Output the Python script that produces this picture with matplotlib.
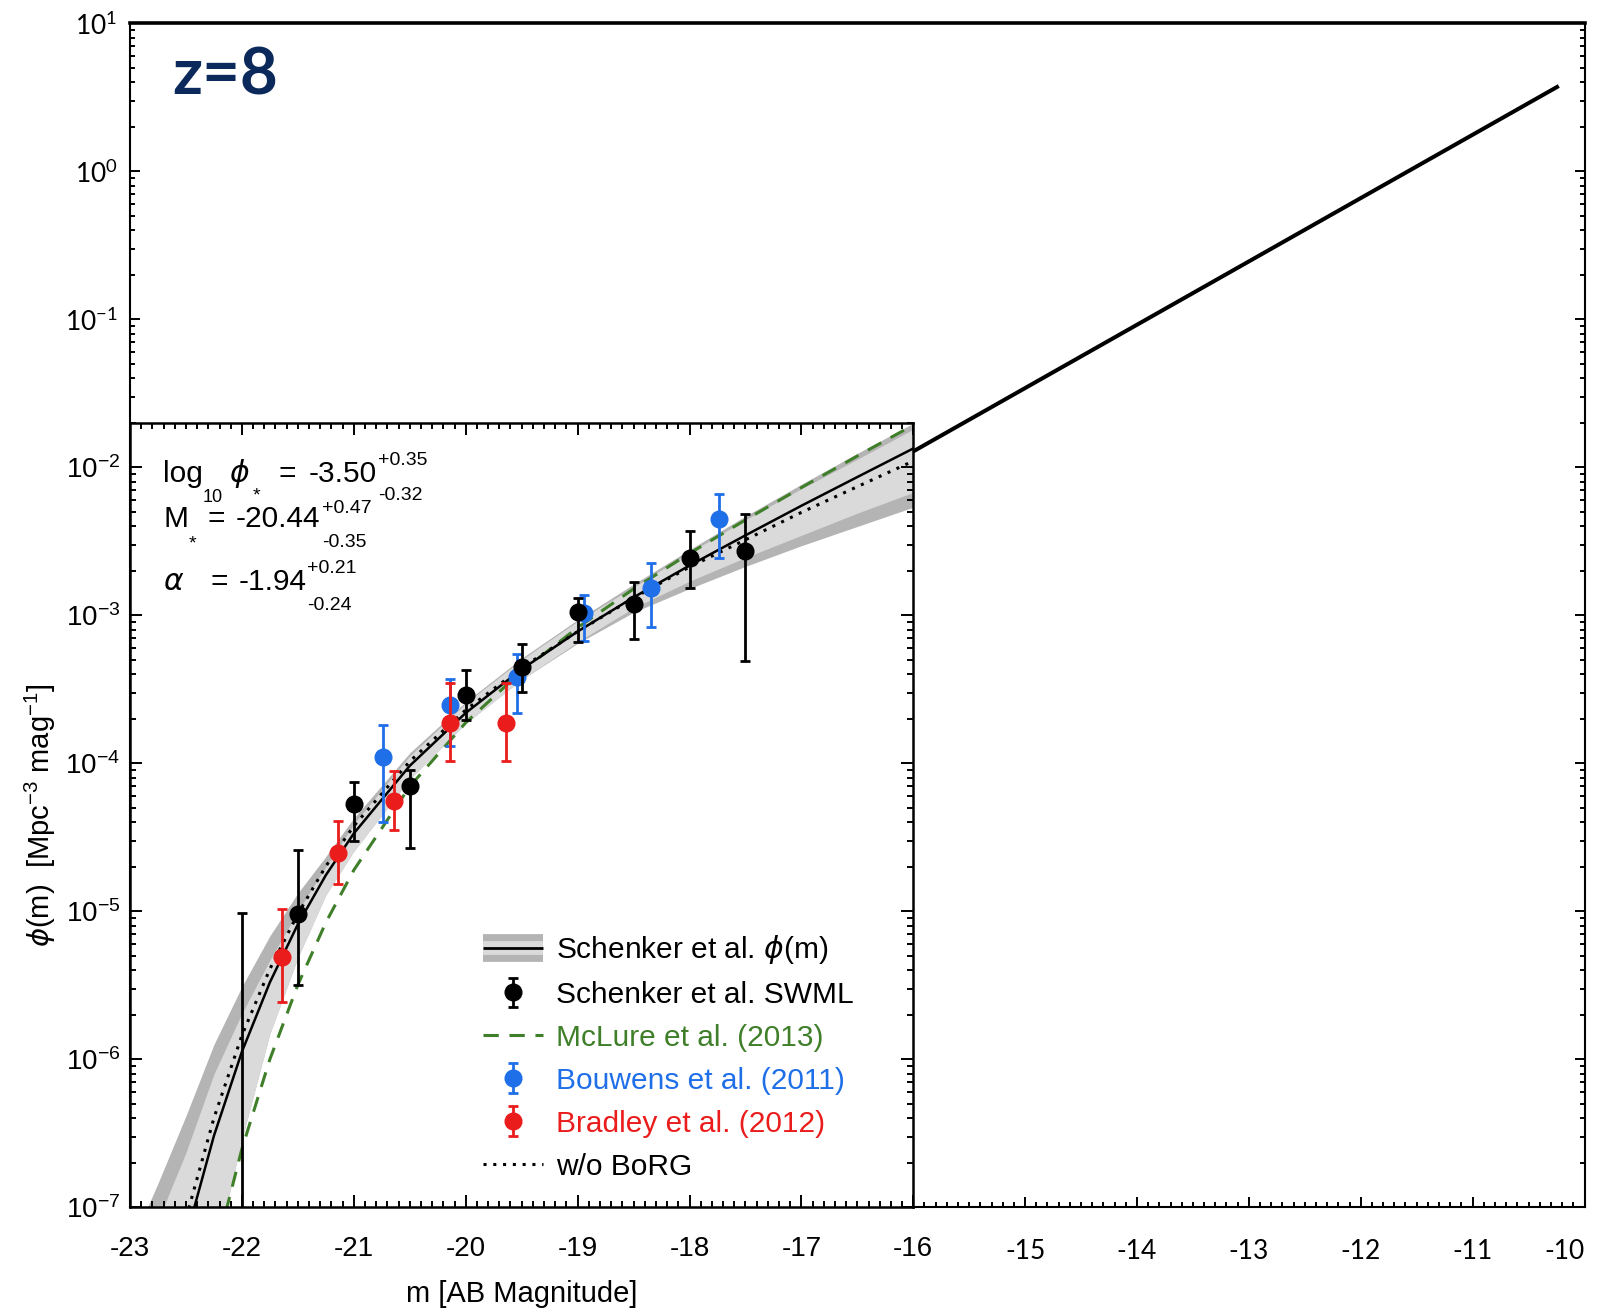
import matplotlib
matplotlib.use('Agg')
import matplotlib.pyplot as plt
from matplotlib.lines import Line2D
from matplotlib.ticker import MultipleLocator, LogLocator, NullFormatter

plt.rcParams['font.family'] = ['Liberation Sans', 'DejaVu Sans']
plt.rcParams['mathtext.default'] = 'regular'

# luminosity function curves (log10 phi)
mag_grid = [-23.0, -22.75, -22.5, -22.25, -22.0, -21.75, -21.5, -21.25, -21.0, -20.5,
            -20.0, -19.5, -19.0, -18.5, -18.0, -17.5, -17.0, -16.5, -16.0]
fit_log = [-9.09, -8.05, -7.206, -6.517, -5.949, -5.480, -5.088, -4.756, -4.474, -4.017,
           -3.660, -3.365, -3.110, -2.879, -2.664, -2.460, -2.260, -2.066, -1.873]
outer_hi_log = [-7.27, -6.838, -6.382, -5.900, -5.509, -5.166, -4.877, -4.63, -4.37, -3.93,
                -3.585, -3.29, -3.03, -2.79, -2.557, -2.33, -2.115, -1.906, -1.703]
inner_hi_log = [-7.5, -7.09, -6.63, -6.10, -5.69, -5.33, -5.0, -4.70, -4.41, -3.95,
                -3.595, -3.30, -3.04, -2.81, -2.577, -2.355, -2.145, -1.946, -1.743]
outer_lo_log = [-10.0, -9.0, -8.19, -7.36, -6.54, -5.827, -5.313, -4.89, -4.594, -4.107,
                -3.73, -3.435, -3.19, -2.98, -2.82, -2.67, -2.53, -2.40, -2.27]
inner_lo_log = [-10.0, -9.0, -8.19, -7.36, -6.54, -5.827, -5.313, -4.89, -4.594, -4.107,
                -3.73, -3.435, -3.18, -2.95, -2.77, -2.61, -2.46, -2.31, -2.17]
mclure_log = [-10.72, -9.354, -8.246, -7.344, -6.606, -6.0, -5.497, -5.076, -4.722, -4.157,
              -3.726, -3.378, -3.084, -2.822, -2.582, -2.356, -2.137, -1.924, -1.715]
noborg_log = [-8.9, -7.90, -7.076, -6.397, -5.839, -5.39, -5.018, -4.696, -4.424, -3.987,
              -3.64, -3.355, -3.11, -2.884, -2.674, -2.49, -2.305, -2.131, -1.958]

# straight extension of the fit out to faint magnitudes
extrap_mag = [-16.0, -10.23]
extrap_phi = [1.28e-2, 3.77]

# Schenker et al. SWML points
swml_mag = [-22.0, -21.5, -21.0, -20.5, -20.0, -19.5, -19.0, -18.5, -18.0, -17.5]
swml_phi = [5e-8, 9.6e-6, 5.3e-5, 7.0e-5, 2.9e-4, 4.5e-4, 1.06e-3, 1.2e-3, 2.43e-3, 2.7e-3]
swml_hi = [9.7e-6, 2.6e-5, 7.5e-5, 9.0e-5, 4.27e-4, 6.4e-4, 1.3e-3, 1.69e-3, 3.7e-3, 4.8e-3]
swml_lo = [1e-9, 3.2e-6, 3.0e-5, 2.67e-5, 1.96e-4, 3.05e-4, 6.6e-4, 6.9e-4, 1.53e-3, 4.9e-4]

# Bouwens et al. (2011)
bouwens_mag = [-20.74, -20.14, -19.54, -18.94, -18.34, -17.74]
bouwens_phi = [1.11e-4, 2.48e-4, 3.8e-4, 1.03e-3, 1.53e-3, 4.45e-3]
bouwens_hi = [1.8e-4, 3.7e-4, 5.5e-4, 1.37e-3, 2.26e-3, 6.6e-3]
bouwens_lo = [4.0e-5, 1.3e-4, 2.18e-4, 6.7e-4, 8.3e-4, 2.43e-3]

# Bradley et al. (2012)
bradley_mag = [-21.64, -21.14, -20.64, -20.14, -19.64]
bradley_phi = [4.9e-6, 2.49e-5, 5.6e-5, 1.88e-4, 1.88e-4]
bradley_hi = [1.03e-5, 4.1e-5, 8.8e-5, 3.5e-4, 3.5e-4]
bradley_lo = [2.45e-6, 1.53e-5, 3.55e-5, 1.04e-4, 1.04e-4]

inner_xticks = list(range(-23, -15))
outer_xticks = list(range(-15, -9))

GREEN = '#3f7f2a'
BLUE = '#1f6fe8'
RED = '#ea1c1c'
OUTER_FONT = ['Lato', 'DejaVu Sans']

W, H = 1604, 1312
fig = plt.figure(figsize=(W / 100, H / 100), dpi=100)

# ---- big (extended) axes ----
ax = fig.add_axes([130 / W, 1 - 1207.3 / H, 1454.5 / W, 1184 / H])
ax.set_yscale('log')
ax.set_xlim(-23, -10)
ax.set_ylim(1e-7, 1e1)
ax.plot(extrap_mag, extrap_phi, color='k', lw=2.9, solid_capstyle='butt')

ax.set_xticks(outer_xticks)
ax.set_xticklabels([str(v) for v in outer_xticks], family=OUTER_FONT, fontsize=19)
ax.get_xticklabels()[-1].set_ha('right')
ax.xaxis.set_minor_locator(MultipleLocator(0.1))
ydec = [10.0 ** e for e in range(-7, 2)]
ax.set_yticks(ydec)
ax.set_yticklabels([''] * 6 + ['$10^{-1}$', '$10^{0}$', '$10^{1}$'], family=OUTER_FONT, fontsize=19)
ax.yaxis.set_minor_locator(LogLocator(base=10, subs=range(2, 10), numticks=20))
ax.yaxis.set_minor_formatter(NullFormatter())
ax.tick_params(which='both', direction='in', top=False, right=True, width=1.4)
ax.tick_params(which='major', length=7.5)
ax.tick_params(which='minor', length=3.8)
ax.tick_params(axis='x', pad=23)
ax.tick_params(axis='y', pad=9)
for side in ['left', 'right', 'bottom']:
    ax.spines[side].set_linewidth(1.5)
ax.spines['top'].set_linewidth(2.6)

fig.text(172 / W, 1 - 76 / H, 'z=8', fontsize=47, color='#0b2a5b',
         family=OUTER_FONT, weight='bold', va='center', ha='left')

# ---- inset: original luminosity-function panel ----
ax_in = fig.add_axes([130 / W, 1 - 1207.3 / H, 783.3 / W, 784.6 / H])
ax_in.set_facecolor('white')
ax_in.set_yscale('log')
ax_in.set_xlim(-23, -16)
ax_in.set_ylim(1e-7, 2e-2)

def lin(vals):
    return [10.0 ** v for v in vals]

ax_in.fill_between(mag_grid, lin(outer_lo_log), lin(outer_hi_log), color='#b4b4b4', lw=0, zorder=1)
ax_in.fill_between(mag_grid, lin(inner_lo_log), lin(inner_hi_log), color='#dadada', lw=0, zorder=1.1)
mcl, = ax_in.plot(mag_grid, lin(mclure_log), color=GREEN, lw=2.2, ls=(0, (5, 3.5)), zorder=2)
nob, = ax_in.plot(mag_grid, lin(noborg_log), color='k', lw=2.2, ls=(0, (1, 2.2)), zorder=2.1)
ax_in.plot(mag_grid, lin(fit_log), color='k', lw=1.8, zorder=2.2)

def ebar(m, p, lo, hi, col, z):
    yerr = [[a - b for a, b in zip(p, lo)], [b - a for a, b in zip(p, hi)]]
    return ax_in.errorbar(m, p, yerr=yerr, fmt='o', color=col, ms=12, elinewidth=2,
                          capsize=3.5, capthick=2, zorder=z)

eb_bou = ebar(bouwens_mag, bouwens_phi, bouwens_lo, bouwens_hi, BLUE, 3)
eb_bra = ebar(bradley_mag, bradley_phi, bradley_lo, bradley_hi, RED, 4)
eb_swml = ebar(swml_mag, swml_phi, swml_lo, swml_hi, 'k', 5)

ax_in.set_xticks(inner_xticks)
ax_in.set_xticklabels([str(v) for v in inner_xticks], fontsize=20)
ax_in.xaxis.set_minor_locator(MultipleLocator(0.1))
idec = [10.0 ** e for e in range(-7, -1)]
ax_in.set_yticks(idec)
ax_in.set_yticklabels(['$10^{%d}$' % e for e in range(-7, -1)], fontsize=20)
ax_in.yaxis.set_minor_locator(LogLocator(base=10, subs=range(2, 10), numticks=20))
ax_in.yaxis.set_minor_formatter(NullFormatter())
ax_in.tick_params(which='both', direction='in', top=True, right=True, width=1.4)
ax_in.tick_params(which='major', length=8.5)
ax_in.tick_params(which='minor', length=4.3)
ax_in.tick_params(axis='x', pad=21)
ax_in.tick_params(axis='y', pad=7)
for side in ax_in.spines.values():
    side.set_linewidth(1.8)

ax_in.set_xlabel('m [AB Magnitude]', fontsize=21)
ax_in.xaxis.set_label_coords(0.5, -0.111)
ax_in.xaxis.label.set_va('center')
ax_in.set_ylabel('$\\mathit{\\phi}$(m)  [Mpc$^{-3}$ mag$^{-1}$]', fontsize=21)
ax_in.yaxis.set_label_coords(-0.114, 0.5)
ax_in.yaxis.label.set_va('center')

band_handle = (Line2D([], [], color='#b4b4b4', lw=20, solid_capstyle='butt'),
               Line2D([], [], color='#dadada', lw=10, solid_capstyle='butt'),
               Line2D([], [], color='k', lw=2, solid_capstyle='butt'))
leg = ax_in.legend([band_handle, eb_swml, mcl, eb_bou, eb_bra, nob],
                   ['Schenker et al. $\\mathit{\\phi}$(m)', 'Schenker et al. SWML',
                    'McLure et al. (2013)', 'Bouwens et al. (2011)',
                    'Bradley et al. (2012)', 'w/o BoRG'],
                   loc='upper left', bbox_to_anchor=(483 / W, 1 - 933 / H),
                   bbox_transform=fig.transFigure, frameon=False, fontsize=21.5,
                   handlelength=2.0, handletextpad=0.43, labelspacing=0.5,
                   borderpad=0, borderaxespad=0,
                   labelcolor=['k', 'k', GREEN, BLUE, RED, 'k'])

# fit parameters
def put(x, y, s, size):
    fig.text(x / W, 1 - y / H, s, fontsize=size, va='baseline', ha='left')

BIG, SUP, SUB = 21.5, 14, 13
put(163, 482, 'log', BIG)
put(203, 502, '10', SUB)
put(229, 482, '$\\mathit{\\phi}$', BIG)
put(253, 500, '*', 14)
put(279, 482, '=', BIG)
put(309, 482, '-3.50', BIG)
put(378, 465, '+0.35', SUP)
put(378, 500, '-0.32', SUP)
put(163, 527, 'M', BIG)
put(189, 548, '*', 14)
put(207, 527, '=', BIG)
put(236, 527, '-20.44', BIG)
put(322, 513, '+0.47', SUP)
put(322, 547, '-0.35', SUP)
put(163, 590, '$\\mathit{\\alpha}$', BIG)
put(210, 590, '=', BIG)
put(239, 590, '-1.94', BIG)
put(307, 573, '+0.21', SUP)
put(307, 610, '-0.24', SUP)

fig.savefig('out.png', dpi=100)
